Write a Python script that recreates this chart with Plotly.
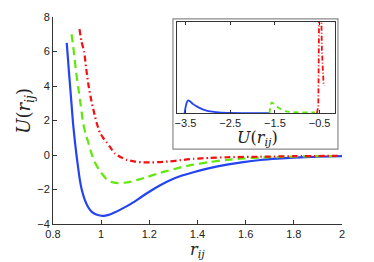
import plotly.graph_objects as go

# ---- main panel data: U(r_ij) for three pair potentials ----
r_blue = [0.857, 0.862, 0.868, 0.875, 0.883, 0.890, 0.8975, 0.905, 0.911, 0.920, 0.932, 0.945, 0.960,
          0.980, 1.000, 1.018, 1.036, 1.055, 1.078, 1.105, 1.133, 1.165, 1.203, 1.245, 1.286, 1.330,
          1.383, 1.450, 1.522, 1.590, 1.661, 1.730, 1.800, 1.900, 2.000]
u_blue = [6.5, 5.6, 4.5, 3.3, 1.87, 0.9, 0.0, -0.8, -1.4, -2.05, -2.6, -3.0, -3.28,
          -3.45, -3.52, -3.51, -3.45, -3.34, -3.18, -2.98, -2.75, -2.45, -2.1, -1.75, -1.46, -1.22,
          -1.0, -0.76, -0.56, -0.41, -0.29, -0.21, -0.15, -0.1, -0.06]

r_green = [0.877, 0.882, 0.888, 0.896, 0.905, 0.915, 0.925, 0.935, 0.946, 0.956, 0.967, 0.980, 0.995,
           1.010, 1.022, 1.040, 1.071, 1.095, 1.120, 1.155, 1.190, 1.245, 1.280, 1.330, 1.383, 1.450,
           1.522, 1.590, 1.660, 1.750, 1.850, 2.000]
u_green = [7.0, 6.5, 5.8, 4.8, 3.9, 2.9, 1.87, 1.25, 0.75, 0.25, -0.19, -0.6, -0.94,
           -1.2, -1.4, -1.55, -1.63, -1.61, -1.56, -1.43, -1.28, -1.03, -0.9, -0.72, -0.56, -0.41,
           -0.28, -0.2, -0.15, -0.11, -0.08, -0.06]

r_red = [0.910, 0.918, 0.929, 0.938, 0.948, 0.960, 0.970, 0.981, 0.995, 1.008, 1.022, 1.040, 1.057,
         1.080, 1.106, 1.140, 1.175, 1.210, 1.245, 1.286, 1.330, 1.383, 1.450, 1.522, 1.660, 1.800, 2.000]
u_red = [7.3, 6.6, 6.0, 5.0, 4.0, 3.1, 2.5, 1.87, 1.3, 1.0, 0.75, 0.4, 0.09,
         -0.12, -0.28, -0.38, -0.43, -0.43, -0.41, -0.37, -0.3, -0.22, -0.17, -0.13, -0.1, -0.07, -0.05]

# ---- inset data: distributions of U(r_ij) ----
ins_x_blue = [-3.52, -3.50, -3.47, -3.44, -3.40, -3.33, -3.25, -3.15, -3.05, -2.90, -2.75, -2.50, -2.00, -1.62]
ins_y_blue = [0.0, 0.06, 0.12, 0.14, 0.13, 0.10, 0.075, 0.05, 0.032, 0.017, 0.008, 0.003, 0.001, 0.0]
ins_x_green = [-1.62, -1.60, -1.57, -1.52, -1.45, -1.35, -1.25, -1.10, -0.90, -0.70, -0.60]
ins_y_green = [0.0, 0.08, 0.12, 0.10, 0.07, 0.04, 0.02, 0.012, 0.01, 0.01, 0.01]
ins_x_red = [-0.56, -0.53, -0.52, -0.51, -0.49, -0.47, -0.45, -0.43, -0.41]
ins_y_red = [0.0, 0.08, 0.6, 1.5, 2.5, 1.3, 0.7, 0.45, 0.3]

x_ticks = [0.8, 1.0, 1.2, 1.4, 1.6, 1.8, 2.0]
x_ticklabels = ["0.8", "1", "1.2", "1.4", "1.6", "1.8", "2"]
y_ticks = [-4, -2, 0, 2, 4, 6, 8]
ins_ticks = [-3.5, -2.5, -1.5, -0.5]

BLUE = "#2444f2"
GREEN = "#5fe80a"
RED = "#f21010"
AX = "#333333"

fig = go.Figure()
fig.add_trace(go.Scatter(x=r_blue, y=u_blue, mode="lines",
                         line=dict(color=BLUE, width=2.2, shape="spline", smoothing=0.6)))
fig.add_trace(go.Scatter(x=r_green, y=u_green, mode="lines",
                         line=dict(color=GREEN, width=2.2, dash="8px,5px", shape="spline", smoothing=0.6)))
fig.add_trace(go.Scatter(x=r_red, y=u_red, mode="lines",
                         line=dict(color=RED, width=2.2, dash="6px,3px,1.5px,3px", shape="spline", smoothing=0.6)))

fig.add_trace(go.Scatter(x=ins_x_blue, y=ins_y_blue, mode="lines", xaxis="x2", yaxis="y2",
                         line=dict(color=BLUE, width=1.8, shape="spline", smoothing=0.6)))
fig.add_trace(go.Scatter(x=ins_x_green, y=ins_y_green, mode="lines", xaxis="x2", yaxis="y2",
                         line=dict(color=GREEN, width=1.8, dash="5px,4px", shape="spline", smoothing=0.6)))
fig.add_trace(go.Scatter(x=ins_x_red, y=ins_y_red, mode="lines", xaxis="x2", yaxis="y2",
                         line=dict(color=RED, width=1.8, dash="5px,2px,1px,2px")))

tickfont = dict(family="Liberation Sans, Arial, sans-serif", size=11, color="#222222")
serif = "DejaVu Serif, Liberation Serif, serif"

# the page body adds an 8px margin, so the figure is 8px smaller than the window
fig.update_layout(
    width=366, height=254,
    margin=dict(l=45, r=32, t=3, b=38),
    paper_bgcolor="white", plot_bgcolor="white",
    showlegend=False,
    xaxis=dict(domain=[0, 1], range=[0.8, 2.0], tickvals=x_ticks, ticktext=x_ticklabels,
               ticks="inside", ticklen=4, tickcolor=AX, showline=True, linecolor=AX, linewidth=1,
               showgrid=False, zeroline=False, tickfont=tickfont),
    yaxis=dict(domain=[0, 1], range=[-4, 8], tickvals=y_ticks, ticklabeloverflow="allow",
               ticks="inside", ticklen=4, tickcolor=AX, showline=True, linecolor=AX, linewidth=1,
               showgrid=False, zeroline=False, tickfont=tickfont),
    xaxis2=dict(domain=[0.429, 0.976], anchor="y2", range=[-3.69, -0.155], tickvals=ins_ticks,
                ticks="inside", ticklen=3, tickcolor=AX, showline=True, mirror="ticks",
                linecolor=AX, linewidth=1, showgrid=False, zeroline=False, tickfont=tickfont),
    yaxis2=dict(domain=[0.535, 0.977], anchor="x2", range=[0, 1], showticklabels=False,
                ticks="", showline=True, mirror=True, linecolor=AX, linewidth=1,
                showgrid=False, zeroline=False),
    shapes=[dict(type="rect", xref="paper", yref="paper", x0=0.415, x1=0.986, y0=0.362, y1=0.991,
                 line=dict(color="#8a8a8a", width=1.2), fillcolor="white", layer="below")],
    annotations=[
        dict(text="<i>r</i><sub><i>ij</i></sub>", xref="paper", yref="paper", x=0.5, y=-0.072,
             xanchor="center", yanchor="top", showarrow=False, borderpad=0,
             font=dict(family=serif, size=16, color="#222")),
        dict(text="<i>U</i>(<i>r</i><sub><i>ij</i></sub>)", xref="paper", yref="paper", x=-0.095, y=0.545,
             xanchor="center", yanchor="middle", textangle=-90, showarrow=False, borderpad=0,
             font=dict(family=serif, size=18, color="#222")),
        dict(text="<i>U</i>(<i>r</i><sub><i>ij</i></sub>)", xref="paper", yref="paper", x=0.709, y=0.415,
             xanchor="center", yanchor="middle", showarrow=False, borderpad=0,
             font=dict(family=serif, size=16, color="#222")),
    ],
)

fig.write_html("out.html")
